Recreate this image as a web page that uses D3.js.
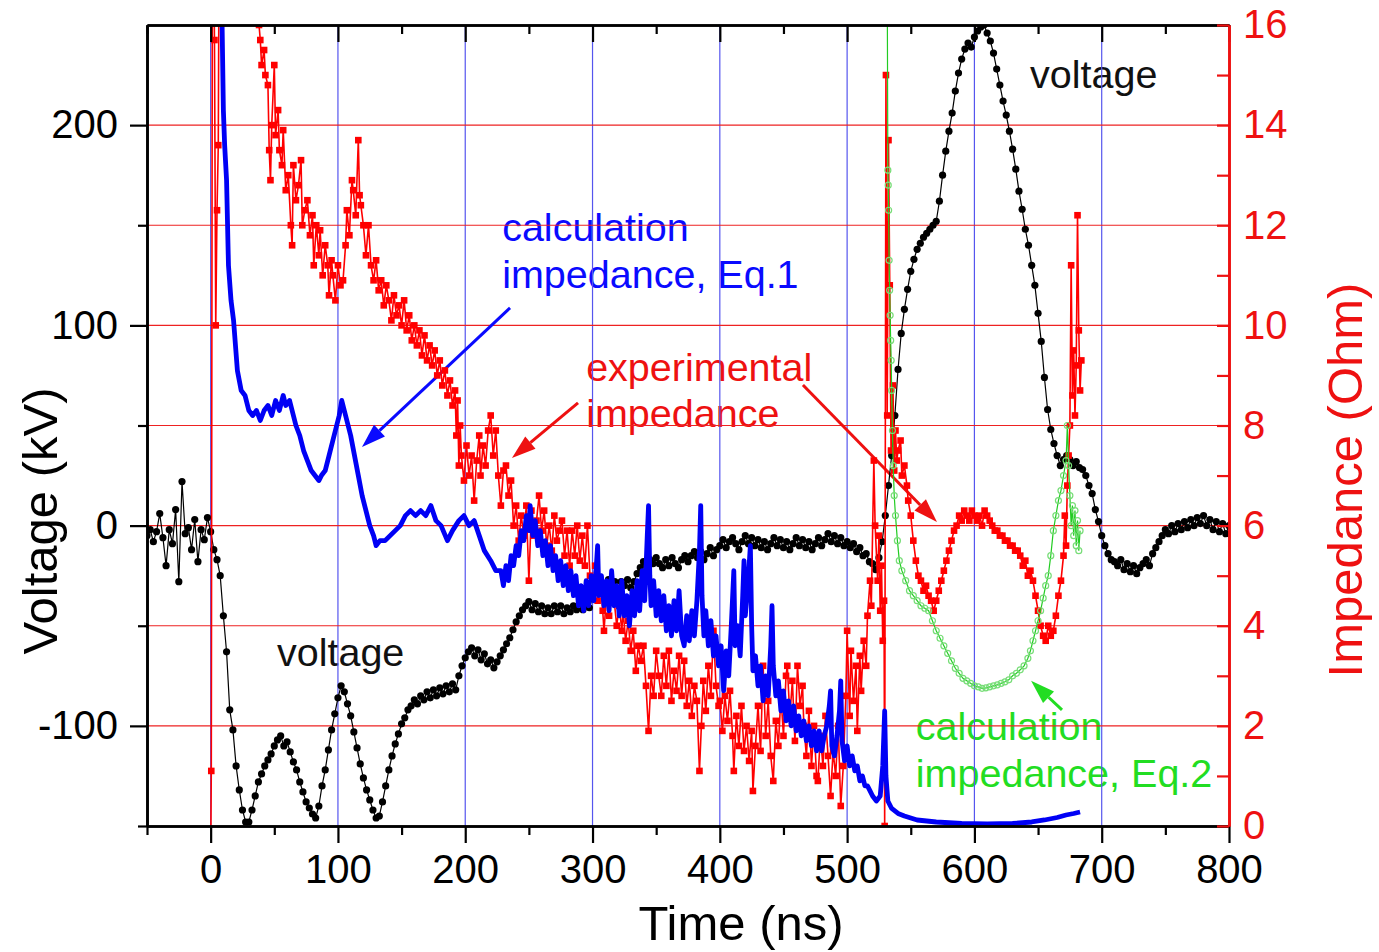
<!DOCTYPE html>
<html><head><meta charset="utf-8">
<script src="https://cdn.jsdelivr.net/npm/d3@7"></script>
<style>
body{margin:0;background:#fff}
text{font-family:"Liberation Sans",Arial,sans-serif}
</style>
</head><body>
<svg id="chart" width="1379" height="952"></svg>
<script>
// ---------- axis ticks ----------
const timeTicks = [0,100,200,300,400,500,600,700,800];
const timeMinorTicks = [-50,50,150,250,350,450,550,650,750];
const voltTicks = [-100,0,100,200];
const voltMinorTicks = [-150,-50,50,150];
const impTicks = [0,2,4,6,8,10,12,14,16];
const impMinorTicks = [1,3,5,7,9,11,13,15];
const vGridTimes = [0,100,200,300,400,500,600,700];
const hGridImp = [2,4,6,8,10,12,14];

// ---------- voltage (kV), sampled every 2.5 ns from -50 ns ----------
const voltageStart = -50, voltageStep = 2.5;
const voltage = [
 -5,-2,-8,-3,6,-6,-20,-2,-9,8,-28,22,-4,-1,-12,3,-18,-2,-7,4,            // -50
 -3,-12,-17,-25,-45,-63,-92,-102,-120,-132,-142,-148,-148,-142,-135,-128,-124,-120,-117,-114, // 0
 -110,-107,-105,-110,-108,-113,-118,-122,-128,-133,-138,-141,-144,-146,-140,-130,-122,-112,-102,-94, // 50
 -86,-80,-83,-89,-95,-103,-111,-119,-126,-132,-137,-142,-146,-145,-138,-130,-122,-115,-109,-104, // 100
 -99,-96,-92,-90,-87,-89,-85,-87,-83,-86,-82,-85,-81,-84,-80,-83,-79,-82,-75,-70, // 150
 -66,-63,-61,-65,-62,-67,-64,-69,-67,-71,-68,-65,-62,-59,-56,-52,-48,-45,-42,-40, // 200
 -38,-42,-39,-43,-40,-44,-41,-44,-40,-43,-40,-44,-41,-43,-40,-42,-39,-42,-38,-41, // 250
 -36,-32,-29,-33,-30,-27,-31,-28,-32,-28,-30,-27,-31,-28,-24,-21,-18,-20,-17,-19, // 300
 -16,-19,-21,-17,-20,-16,-19,-21,-17,-15,-18,-15,-13,-16,-13,-17,-14,-11,-15,-12, // 350
 -10,-7,-11,-8,-6,-9,-12,-8,-5,-9,-6,-10,-7,-11,-8,-12,-9,-6,-10,-7,   // 400
 -11,-8,-12,-9,-6,-10,-7,-11,-8,-12,-9,-6,-10,-7,-4,-8,-5,-9,-6,-10,   // 450
 -8,-11,-9,-13,-11,-15,-14,-18,-19,-22,-16,-8,5,20,35,55,78,96,108,118, // 500
 127,133,138,141,144,146,148,150,152,162,175,187,197,206,217,226,233,238,241,239, // 550
 244,247,249,250,246,242,236,228,220,212,205,197,188,178,167,158,148,140,130,120, // 600
 106,92,74,58,48,41,35,30,33,35,33,30,32,29,28,25,20,16,8,2,          // 650
 -5,-10,-14,-17,-18,-20,-17,-22,-19,-23,-20,-24,-21,-19,-17,-20,-14,-11,-8,-5, // 700
 -2,-4,0,-3,1,-2,2,-1,3,0,4,1,5,0,3,-2,2,-3,1,-4,                     // 750
 0                                                                     // 800
];

// ---------- calculation impedance Eq.1 (Ohm) [t ns, value] ----------
const impedanceEq1 = [
 [8,17],[9,16],[10,14.3],[11,13.6],[12.5,12.9],[14,11.2],[16,10.5],[18,10.1],[21,9.1],[24,8.7],
 [27,8.6],[30,8.3],[33,8.2],[36,8.3],[39,8.1],[42,8.3],[45,8.4],[48,8.2],[51,8.5],[54,8.3],
 [57,8.6],[59,8.4],[62,8.5],[65,8.2],[67,8.0],[70,7.8],[73,7.5],[76,7.3],[79,7.1],[82,7.0],
 [85,6.9],[87,7.0],[90,7.1],[93,7.4],[96,7.7],[99,8.0],[101,8.2],[103,8.5],[105,8.3],[107,8.1],
 [110,7.8],[113,7.4],[116,7.0],[119,6.6],[122,6.3],[125,6.0],[128,5.8],[130,5.6],[133,5.7],[137,5.7],
 [141,5.8],[145,5.9],[149,6.0],[153,6.2],[157,6.3],[161,6.2],[165,6.3],[169,6.2],[173,6.4],[177,6.1],
 [181,6.0],[186,5.7],[190,5.9],[195,6.1],[199,6.2],[203,6.0],[207,6.1],[211,5.8],[215,5.5],[220,5.3],
 [224,5.1],[228,5.1],[230,4.8],[232,5.2],[234,4.9],[236,5.4],[238,5.2],[240,5.6],[242,5.4],[244,5.9],
 [246,5.7],[248,6.2],[250,5.9],[251,6.4],[253,5.8],[255,6.1],[257,5.6],[259,5.9],[261,5.4],[263,5.7],
 [265,5.2],[267,5.6],[269,5.1],[271,5.4],[273,4.9],[275,5.3],[277,4.8],[279,5.2],[281,4.7],[283,5.1],
 [285,4.6],[287,5.0],[289,4.4],[291,4.8],[293,4.3],[295,4.9],[297,4.4],[299,5.0],[301,4.5],[303,5.2],
 [304,5.6],[305,4.6],[307,5.0],[309,4.4],[311,4.9],[313,4.3],[315,5.1],[317,4.4],[319,4.8],[321,4.2],
 [323,4.9],[325,4.2],[327,4.6],[329,4.0],[331,4.7],[333,4.2],[335,4.9],[337,4.3],[339,5.1],[341,4.5],
 [343,5.8],[344,6.4],[345,5.0],[346,4.4],[348,4.9],[350,4.2],[352,4.7],[354,4.1],[356,4.6],[358,3.9],
 [360,4.4],[362,3.8],[364,4.5],[366,3.9],[368,4.7],[370,3.8],[372,3.6],[374,4.2],[376,3.7],[378,4.3],
 [380,3.8],[382,4.5],[384,5.5],[385,6.4],[386,4.6],[387.5,3.8],[389,4.3],[391,3.6],[393,4.1],[395,3.4],
 [397,3.8],[399,3.2],[401,3.6],[403,2.7],[405,3.5],[407,3.0],[409,4.0],[411,5.1],[412,3.6],[414,4.0],
 [416,3.4],[418,4.6],[419,5.3],[420,4.2],[422,4.8],[424,5.6],[425,4.0],[426,3.1],[428,3.4],[430,2.8],
 [432,3.2],[434,2.5],[436,3.0],[438,2.6],[440,3.6],[441,4.4],[442,3.2],[444,2.6],[446,2.9],[448,2.3],
 [450,2.7],[452,2.1],[454,2.5],[456,2.0],[458,2.4],[460,1.9],[462,2.2],[464,1.8],[466,2.1],[468,1.7],
 [470,2.0],[472,1.6],[474,1.9],[476,1.5],[478,1.9],[480,1.5],[482,1.8],[484,2.0],[486,2.4],[487,2.7],
 [488,1.6],[490,1.4],[492,1.8],[494,2.3],[495,2.9],[496,1.7],[498,1.3],[500,1.6],[502,1.2],[504,1.4],
 [506,1.1],[508,1.2],[510,0.9],[512,1.0],[514,0.8],[516,0.8],[518,0.7],[520,0.6],[523,0.5],[526,0.6],
 [528,1.2],[529.5,2.3],[530.5,1.0],[532,0.5],[535,0.35],[540,0.25],[545,0.2],[555,0.12],[570,0.08],[590,0.05],
 [610,0.04],[630,0.05],[645,0.08],[655,0.12],[665,0.17],[672,0.22],[678,0.25],[683,0.28]
];

// ---------- experimental impedance (Ohm) [t ns, value] ----------
const impedanceExp = [
 [0,-1],[0.5,1.1],[1.5,20],[3,15.7],[4,10.0],[5,12.3],[6,13.6],[7,20],[36,17],
 [38,16.0],[39,15.7],[40,15.2],[42,15.5],[43,15.0],[45,14.8],[46,13.5],[47,12.9],[48,14.0],[50,15.2],
 [51,13.8],[53,14.3],[54,13.5],[56,13.2],[57,13.9],[59,12.7],[61,13.0],[63,12.0],[64,11.6],[65,13.2],
 [67,12.5],[69,12.8],[71,13.3],[72,12.0],[74,12.3],[76,12.5],[78,11.8],[80,12.2],[81,11.2],[83,12.0],
 [85,11.4],[86,11.9],[88,11.0],[90,11.6],[92,11.2],[93,10.6],[95,11.3],[96,11.0],[98,10.5],[100,11.2],
 [102,10.8],[104,10.9],[106,11.6],[107,12.3],[109,11.8],[111,12.9],[112,12.7],[114,12.2],[116,13.7],[117,12.6],
 [118,12.4],[120,12.0],[122,11.4],[124,12.0],[126,11.2],[128,10.9],[130,11.3],[132,10.7],[134,10.9],[136,10.4],
 [138,10.8],[140,10.5],[142,10.1],[144,10.6],[146,10.2],[148,10.4],[150,10.0],[152,10.5],[154,9.9],[156,10.2],
 [158,9.7],[160,10.0],[162,9.6],[164,9.9],[166,9.4],[168,9.8],[170,9.3],[172,9.6],[174,9.2],[176,9.5],
 [178,9.0],[180,9.3],[182,8.8],[184,9.1],[186,8.6],[188,8.9],[190,8.4],[192,8.7],[193,7.8],[194,8.5],
 [195,7.2],[196,8.0],[197,7.4],[199,6.9],[201,7.6],[203,7.0],[205,7.4],[207,6.5],[209,7.3],[211,7.8],
 [212,7.0],[214,7.6],[216,7.2],[218,7.9],[220,8.2],[222,7.4],[224,7.9],[226,7.0],[228,6.4],[230,7.1],
 [232,7.2],[234,6.6],[236,6.9],[238,6.0],[240,6.4],[242,5.7],[244,6.2],[246,5.8],[248,6.4],[250,4.9],
 [252,6.3],[254,5.8],[256,6.1],[258,6.6],[260,5.9],[262,6.3],[264,5.6],[266,6.0],[268,5.5],[270,6.2],
 [272,5.7],[274,5.9],[276,6.1],[278,5.4],[280,5.9],[282,5.2],[284,5.9],[286,5.4],[288,6.0],[290,5.3],
 [292,5.8],[294,5.2],[296,6.0],[298,5.0],[300,4.7],[302,5.2],[304,4.5],[306,4.9],[308,4.3],[309,3.9],
 [311,4.6],[313,4.2],[315,4.7],[317,4.5],[319,4.0],[321,4.4],[323,3.9],[324,4.3],[326,3.7],[328,4.1],
 [330,3.5],[332,3.9],[334,3.1],[336,3.6],[338,3.3],[340,3.6],[342,2.8],[344,1.9],[346,3.0],[348,2.6],
 [350,3.5],[352,3.0],[354,2.6],[356,3.4],[358,2.8],[360,3.5],[362,2.5],[364,3.1],[366,2.7],[368,3.4],
 [370,2.6],[372,3.3],[374,2.4],[376,2.9],[378,2.2],[380,2.8],[382,2.5],[384,1.1],[385.5,2.0],[387,2.9],
 [389,2.3],[391,3.2],[393,2.6],[395,3.9],[397,2.8],[399,2.4],[400,2.5],[402,1.9],[404,2.6],[406,2.1],
 [408,2.7],[410,1.8],[411,1.1],[413,2.2],[415,1.6],[417,2.4],[419,1.5],[421,2.0],[423,1.3],[425,1.9],
 [426,0.7],[428,1.6],[430,2.4],[432,1.5],[434,3.2],[436,1.8],[438,2.5],[440,1.4],[442,0.9],[444,2.1],
 [446,1.6],[448,2.6],[450,1.8],[452,3.0],[453,3.2],[455,2.2],[457,2.9],[459,1.7],[461,3.2],[463,2.4],
 [465,2.8],[466,2.0],[468,1.4],[470,2.3],[472,1.2],[474,2.0],[476,1.0],[477,0.9],[479,1.8],[481,1.2],
 [483,2.2],[485,1.4],[487,0.6],[489,1.5],[491,1.0],[493,2.0],[495,0.4],[497,1.2],[499,2.6],[500,3.9],
 [502,2.2],[503,3.5],[505,2.5],[507,3.2],[508,1.9],[510,3.4],[511,2.7],[513,3.7],[515,3.2],[516,4.2],
 [518,4.9],[519,4.4],[521,7.3],[522,6.0],[524,4.9],[525,5.8],[526,4.3],[527,5.2],[528,3.7],[529,4.5],
 [529.5,0.0],[530.5,15.0],[531.5,8.2],[532.5,13.7],[533.5,10.8],[534.5,7.5],[536,8.8],[537,7.1],[538,7.9],[539,7.3],
 [540,7.5],[542,7.7],[543,7.0],[545,7.2],[547,6.8],[548,6.5],[550,6.2],[552,5.7],[554,5.3],[556,5.0],
 [558,4.9],[560,4.7],[562,4.8],[564,4.6],[566,4.5],[568,4.3],[570,4.5],[572,4.7],[574,4.9],[576,5.1],
 [578,5.3],[580,5.5],[582,5.7],[584,5.9],[586,6.0],[588,6.2],[590,6.1],[592,6.3],[594,6.2],[596,6.1],
 [598,6.3],[600,6.2],[602,6.1],[604,6.2],[606,6.0],[608,6.3],[610,6.2],[612,6.1],[614,6.0],[616,5.9],
 [618,5.9],[620,5.8],[622,5.8],[624,5.7],[626,5.7],[628,5.6],[630,5.6],[632,5.5],[634,5.5],[636,5.4],
 [638,5.2],[640,5.3],[642,5.0],[644,5.1],[646,4.9],[648,4.6],[650,4.3],[652,4.0],[654,3.8],[656,3.7],
 [658,4.0],[660,3.8],[662,3.9],[664,4.2],[666,4.6],[668,4.9],[670,5.4],[671,6.2],[672,5.6],[673,6.8],
 [674,7.4],[675,8.0],[676,11.2],[677,8.6],[678,9.5],[679,8.2],[680,9.2],[681,12.2],[682,9.9],[683,8.7],[684,9.3]
];

// ---------- calculation impedance Eq.2 (Ohm) [t ns, value] ----------
const impedanceEq2 = [
 [530,20],[531.5,17],[532,13.1],[532.3,12.8],[532.6,12.3],[533,11.3],[533.4,10.7],[533.8,10.2],[534.2,9.7],[534.6,9.3],
 [535,8.7],[535.6,7.9],[536.2,7.2],[537,6.6],[538,6.2],[539.5,5.7],[541,5.3],[543,5.1],[546,4.9],[549,4.7],
 [552,4.6],[555,4.5],[558,4.4],[561,4.35],[564,4.3],[567,4.1],[570,3.9],[573,3.75],[576,3.6],[579,3.45],
 [582,3.3],[585,3.15],[588,3.05],[591,2.95],[594,2.9],[597,2.85],[600,2.8],[603,2.78],[606,2.75],[609,2.76],
 [612,2.78],[615,2.8],[618,2.82],[621,2.85],[624,2.88],[627,2.92],[630,3.0],[633,3.05],[636,3.12],[639,3.2],
 [642,3.35],[644,3.5],[646,3.7],[648,3.9],[650,4.1],[652,4.3],[654,4.55],[656,4.8],[658,5.0],[660,5.4],
 [662,5.9],[664,6.2],[666,6.5],[668,6.7],[670,7.0],[672,7.3],[673,8.0],[674,7.2],[675,6.6],[676,6.0],
 [677,6.4],[678,5.8],[679,6.3],[680,5.6],[681,6.1],[682,5.5],[683,5.9]
];

// ---------- annotations (data coordinates) ----------
const labelsImp = [
 {t:229, v:11.69, text:"calculation", color:"#0a0aff"},
 {t:229, v:10.75, text:"impedance, Eq.1", color:"#0a0aff"},
 {t:295, v:8.89, text:"experimental", color:"#ee1111"},
 {t:295, v:7.97, text:"impedance", color:"#ee1111"},
 {t:554, v:1.72, text:"calculation", color:"#22dd22"},
 {t:554, v:0.78, text:"impedance, Eq.2", color:"#22dd22"}
];
const labelsVolt = [
 {t:643.7, v:218.5, text:"voltage"},
 {t:52.1, v:-70.1, text:"voltage"}
];
const arrows = [
 {t0:235.2, v0:10.35, t1:118.9, v1:7.57, color:"#0a0aff"},
 {t0:288.6, v0:8.45, t1:236.7, v1:7.35, color:"#ee1111"},
 {t0:465.3, v0:8.81, t1:570.6, v1:6.07, color:"#ee1111"},
 {t0:668.8, v0:2.32, t1:644.5, v1:2.90, color:"#22dd22"}
];

// ---------- drawing ----------
const svg = d3.select("#chart");
const L = 147, R = 1229, T = 25, B = 826;
const x = d3.scaleLinear().domain([-50, 800]).range([L, R]);
const yV = d3.scaleLinear().domain([-150, 250]).range([B, T]);
const yZ = d3.scaleLinear().domain([0, 16]).range([B, T]);

svg.append("rect").attr("width",1379).attr("height",952).attr("fill","#fff");
svg.append("defs").append("clipPath").attr("id","clip")
  .append("rect").attr("x",L).attr("y",T).attr("width",R-L).attr("height",B-T);

// annotation text (under the grid)
const ann = svg.append("g");
ann.selectAll("text.imp").data(labelsImp).join("text")
  .attr("x", d => x(d.t)).attr("y", d => yZ(d.v))
  .attr("fill", d => d.color).attr("font-size", 39.5).text(d => d.text);
ann.selectAll("text.vol").data(labelsVolt).join("text")
  .attr("x", d => x(d.t)).attr("y", d => yV(d.v))
  .attr("fill", "#111").attr("font-size", 39.5).text(d => d.text);

// grid
const grid = svg.append("g");
grid.selectAll("line.v").data(vGridTimes).join("line")
  .attr("x1", d => x(d)).attr("x2", d => x(d)).attr("y1", T).attr("y2", B)
  .attr("stroke", "#5555ee").attr("stroke-width", 1.2);
grid.selectAll("line.h").data(hGridImp).join("line")
  .attr("x1", L).attr("x2", R).attr("y1", d => yZ(d)).attr("y2", d => yZ(d))
  .attr("stroke", "#ee2222").attr("stroke-width", 1.2);

// arrows
const ag = svg.append("g");
arrows.forEach(a => {
  const x0 = x(a.t0), y0 = yZ(a.v0), x1 = x(a.t1), y1 = yZ(a.v1);
  const ang = Math.atan2(y1 - y0, x1 - x0), hl = 24, hw = 8;
  const bx = x1 - hl*Math.cos(ang), by = y1 - hl*Math.sin(ang);
  ag.append("line").attr("x1",x0).attr("y1",y0).attr("x2",bx).attr("y2",by)
    .attr("stroke",a.color).attr("stroke-width",3);
  const px = -Math.sin(ang)*hw, py = Math.cos(ang)*hw;
  ag.append("path").attr("d",`M${x1},${y1}L${bx+px},${by+py}L${bx-px},${by-py}Z`).attr("fill",a.color);
});

// data
const plot = svg.append("g").attr("clip-path","url(#clip)");
const vData = voltage.map((v,i) => [voltageStart + i*voltageStep, v]);
plot.append("path").datum(vData)
  .attr("d", d3.line().x(d => x(d[0])).y(d => yV(d[1])))
  .attr("fill","none").attr("stroke","#000").attr("stroke-width",1.2);
plot.append("g").selectAll("circle").data(vData).join("circle")
  .attr("cx", d => x(d[0])).attr("cy", d => yV(d[1])).attr("r", 3.6).attr("fill","#000");

plot.append("path").datum(impedanceExp)
  .attr("d", d3.line().x(d => x(d[0])).y(d => yZ(d[1])))
  .attr("fill","none").attr("stroke","#f00").attr("stroke-width",1.6);
plot.append("g").selectAll("rect").data(impedanceExp).join("rect")
  .attr("x", d => x(d[0]) - 3.3).attr("y", d => yZ(d[1]) - 3.3)
  .attr("width", 6.6).attr("height", 6.6).attr("fill","#f00");

plot.append("path").datum(impedanceEq1)
  .attr("d", d3.line().x(d => x(d[0])).y(d => yZ(d[1])))
  .attr("fill","none").attr("stroke","#0000f5").attr("stroke-width",4.8)
  .attr("stroke-linejoin","round");

plot.append("path").datum(impedanceEq2)
  .attr("d", d3.line().x(d => x(d[0])).y(d => yZ(d[1])))
  .attr("fill","none").attr("stroke","#22cc22").attr("stroke-width",1.2);
plot.append("g").selectAll("circle").data(impedanceEq2).join("circle")
  .attr("cx", d => x(d[0])).attr("cy", d => yZ(d[1])).attr("r", 3)
  .attr("fill","none").attr("stroke","#77dd77").attr("stroke-width",1.2);

// axes
function styleAxis(g, color, fs) {
  g.select(".domain").attr("stroke", color).attr("stroke-width", 2.6);
  g.selectAll(".tick line").attr("stroke", color).attr("stroke-width", 2.2);
  g.selectAll(".tick text").attr("fill", color).attr("font-size", fs)
    .attr("font-family", '"Liberation Sans",Arial,sans-serif');
}
const axB = svg.append("g").attr("transform",`translate(0,${B})`)
  .call(d3.axisBottom(x).tickValues(timeTicks).tickSize(17).tickSizeOuter(0).tickPadding(12).tickFormat(d3.format("d")));
styleAxis(axB, "#000", 40);
const axBm = svg.append("g").attr("transform",`translate(0,${B})`)
  .call(d3.axisBottom(x).tickValues(timeMinorTicks).tickSize(9).tickSizeOuter(0).tickFormat(""));
styleAxis(axBm, "#000", 40);
const axT = svg.append("g").attr("transform",`translate(0,${T})`)
  .call(d3.axisTop(x).tickValues(timeTicks).tickSize(-17).tickSizeOuter(0).tickFormat(""));
styleAxis(axT, "#000", 40);
const axTm = svg.append("g").attr("transform",`translate(0,${T})`)
  .call(d3.axisTop(x).tickValues(timeMinorTicks).tickSize(-9).tickSizeOuter(0).tickFormat(""));
styleAxis(axTm, "#000", 40);
const axL = svg.append("g").attr("transform",`translate(${L},0)`)
  .call(d3.axisLeft(yV).tickValues(voltTicks).tickSize(17).tickSizeOuter(0).tickPadding(12).tickFormat(d3.format("d")));
styleAxis(axL, "#000", 40);
axL.selectAll(".tick text").text(d => d < 0 ? "-" + Math.abs(d) : d);
const axLm = svg.append("g").attr("transform",`translate(${L},0)`)
  .call(d3.axisLeft(yV).tickValues(voltMinorTicks).tickSize(9).tickSizeOuter(0).tickFormat(""));
styleAxis(axLm, "#000", 40);
const axR = svg.append("g").attr("transform",`translate(${R},0)`)
  .call(d3.axisRight(yZ).tickValues(impTicks).tickSize(-12).tickSizeOuter(0).tickPadding(14).tickFormat(d3.format("d")));
styleAxis(axR, "#ee1111", 40);
const axRm = svg.append("g").attr("transform",`translate(${R},0)`)
  .call(d3.axisRight(yZ).tickValues(impMinorTicks).tickSize(-12).tickSizeOuter(0).tickFormat(""));
styleAxis(axRm, "#ee1111", 40);

// axis titles
svg.append("text").attr("x", 741).attr("y", 940).attr("text-anchor","middle")
  .attr("font-size", 49).attr("fill","#000").text("Time (ns)");
svg.append("text").attr("transform","translate(40,521) rotate(-90)").attr("text-anchor","middle")
  .attr("dominant-baseline","central").attr("font-size", 49).attr("fill","#000").text("Voltage (kV)");
svg.append("text").attr("transform","translate(1345,480) rotate(-90)").attr("text-anchor","middle")
  .attr("dominant-baseline","central").attr("font-size", 49).attr("fill","#ee1111").text("Impedance (Ohm)");
</script>
</body></html>
